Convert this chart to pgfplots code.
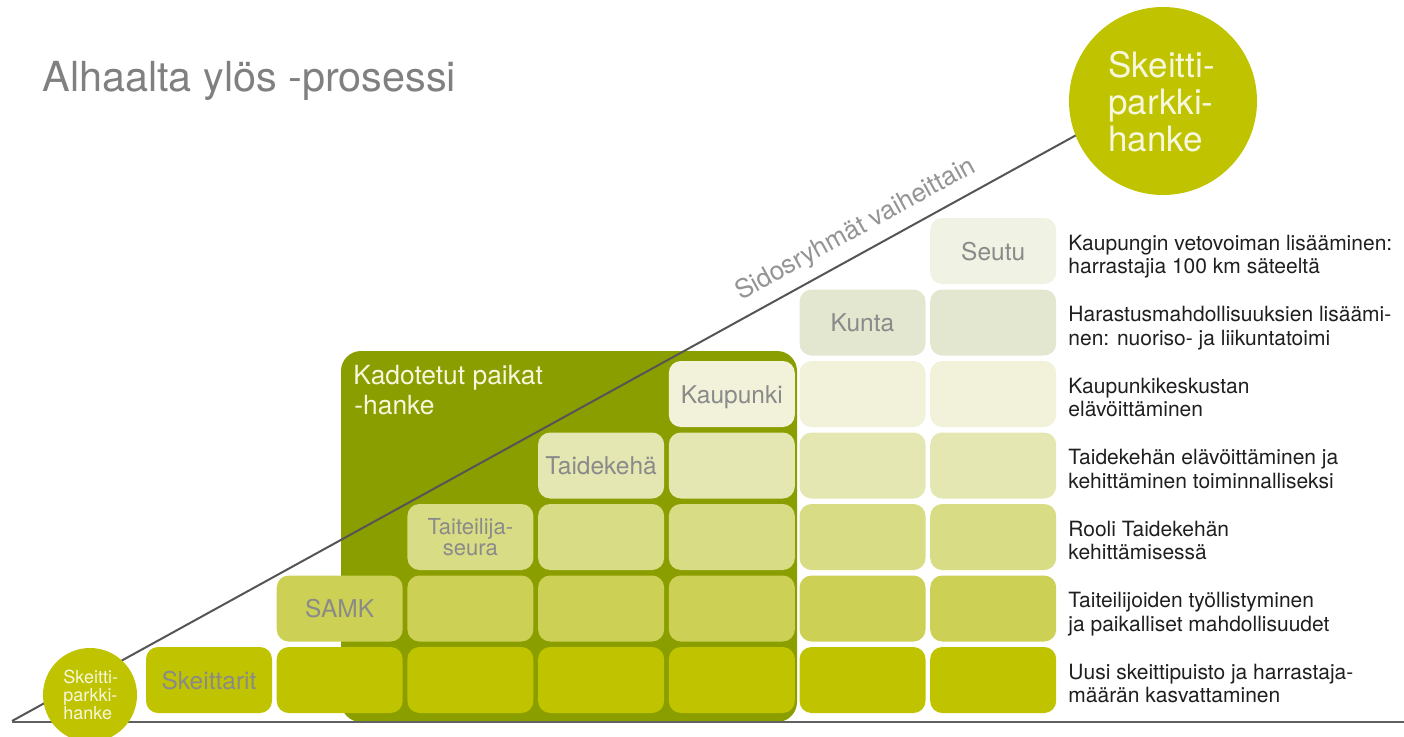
\documentclass[border=0pt]{standalone}
\usepackage{fontspec}
\setmainfont{TeX Gyre Heros}
\usepackage{pgfplots}
\pgfplotsset{compat=1.18}
\definecolor{rA}{HTML}{BFC300}
\definecolor{rB}{HTML}{CCD055}
\definecolor{rC}{HTML}{D8DC85}
\definecolor{rD}{HTML}{E4E7B2}
\definecolor{rE}{HTML}{F1F2D9}
\definecolor{rF}{HTML}{E3E7CF}
\definecolor{rG}{HTML}{F0F2E3}
\definecolor{darkbox}{HTML}{8A9E00}
\definecolor{tilegray}{HTML}{8A8A8A}
\definecolor{linegray}{HTML}{555555}
\definecolor{circtext}{HTML}{F6F7DC}
\newcommand{\tile}[3]{\fill[#3, rounded corners=6bp] (axis cs:{146+130.7*#1},{647-71.5*#2}) rectangle (axis cs:{146+130.7*#1+126},{647-71.5*#2+66});}
\newcommand{\rtext}[3]{%
\node[anchor=base west, inner sep=0pt, text=black!88, font=\fontsize{10.5bp}{12bp}\selectfont] at (axis cs:1068,{680-71.5*#1-1}) {#2};
\node[anchor=base west, inner sep=0pt, text=black!88, font=\fontsize{10.5bp}{12bp}\selectfont] at (axis cs:1068,{680-71.5*#1+22.5}) {#3};}
\begin{document}
\begin{tikzpicture}
\begin{axis}[name=ax, scale only axis, width=702bp, height=368.5bp,
  xmin=0, xmax=1404, ymin=0, ymax=737, y dir=reverse, hide axis,
  enlargelimits=false, clip=true]
% dark project box
\fill[darkbox, rounded corners=10bp] (axis cs:341,351) rectangle (axis cs:797,722);
% diagonal line
\draw[linegray, line width=1bp] (axis cs:12,721) -- (axis cs:1120,111);
% tiles
\tile{0}{0}{rA}\tile{1}{0}{rA}\tile{2}{0}{rA}\tile{3}{0}{rA}\tile{4}{0}{rA}\tile{5}{0}{rA}\tile{6}{0}{rA}
\tile{1}{1}{rB}\tile{2}{1}{rB}\tile{3}{1}{rB}\tile{4}{1}{rB}\tile{5}{1}{rB}\tile{6}{1}{rB}
\tile{2}{2}{rC}\tile{3}{2}{rC}\tile{4}{2}{rC}\tile{5}{2}{rC}\tile{6}{2}{rC}
\tile{3}{3}{rD}\tile{4}{3}{rD}\tile{5}{3}{rD}\tile{6}{3}{rD}
\tile{4}{4}{rE}\tile{5}{4}{rE}\tile{6}{4}{rE}
\tile{5}{5}{rF}\tile{6}{5}{rF}
\tile{6}{6}{rG}
% baseline
\draw[black!62, line width=1bp] (axis cs:12,721.5) -- (axis cs:1404,721.5);
% circles
\fill[rA] (axis cs:90,695) circle[radius=23.5bp];
\fill[rA] (axis cs:1163,101) circle[radius=47bp];
% tile labels
\node[anchor=base, inner sep=0pt, text=tilegray, font=\fontsize{12.25bp}{14bp}\selectfont] at (axis cs:209,689) {Skeittarit};
\node[anchor=base, inner sep=0pt, text=tilegray, font=\fontsize{12.25bp}{14bp}\selectfont] at (axis cs:339.7,617) {SAMK};
\node[anchor=base, inner sep=0pt, text=tilegray, font=\fontsize{11bp}{12bp}\selectfont] at (axis cs:470.4,534) {Taiteilija-};
\node[anchor=base, inner sep=0pt, text=tilegray, font=\fontsize{11bp}{12bp}\selectfont] at (axis cs:470.4,555) {seura};
\node[anchor=base, inner sep=0pt, text=tilegray, font=\fontsize{12.25bp}{14bp}\selectfont] at (axis cs:601.1,474.5) {Taidekehä};
\node[anchor=base, inner sep=0pt, text=tilegray, font=\fontsize{12.25bp}{14bp}\selectfont] at (axis cs:731.8,403) {Kaupunki};
\node[anchor=base, inner sep=0pt, text=tilegray, font=\fontsize{12.25bp}{14bp}\selectfont] at (axis cs:862.5,331.5) {Kunta};
\node[anchor=base, inner sep=0pt, text=tilegray, font=\fontsize{12.25bp}{14bp}\selectfont] at (axis cs:993.2,260) {Seutu};
% project box title
\node[anchor=base west, inner sep=0pt, text=circtext, font=\fontsize{13.2bp}{15bp}\selectfont] at (axis cs:353,384.5) {Kadotetut paikat};
\node[anchor=base west, inner sep=0pt, text=circtext, font=\fontsize{13.2bp}{15bp}\selectfont] at (axis cs:354,414) {-hanke};
% circle texts
\node[anchor=base west, inner sep=0pt, text=circtext, font=\fontsize{9bp}{10bp}\selectfont] at (axis cs:63,683) {Skeitti-};
\node[anchor=base west, inner sep=0pt, text=circtext, font=\fontsize{9bp}{10bp}\selectfont] at (axis cs:63,701) {parkki-};
\node[anchor=base west, inner sep=0pt, text=circtext, font=\fontsize{9bp}{10bp}\selectfont] at (axis cs:63,719) {hanke};
\node[anchor=base west, inner sep=0pt, text=circtext, font=\fontsize{17.5bp}{19bp}\selectfont] at (axis cs:1108,77) {Skeitti-};
\node[anchor=base west, inner sep=0pt, text=circtext, font=\fontsize{17.5bp}{19bp}\selectfont] at (axis cs:1108,114) {parkki-};
\node[anchor=base west, inner sep=0pt, text=circtext, font=\fontsize{17.5bp}{19bp}\selectfont] at (axis cs:1108,151) {hanke};
% title
\node[anchor=base west, inner sep=0pt, text=black!50, font=\fontsize{20.7bp}{24bp}\selectfont] at (axis cs:42,91.5) {Alhaalta ylös -prosessi};
% diagonal label
\node[anchor=base, inner sep=0pt, rotate=28.8, text=black!42, font=\fontsize{13bp}{15bp}\selectfont] at (axis cs:859,236) {Sidosryhmät vaiheittain};
% right-hand descriptions
\rtext{6}{Kaupungin vetovoiman lisääminen:}{harrastajia 100 km säteeltä}
\rtext{5}{Harastusmahdollisuuksien lisäämi-}{nen: nuoriso- ja liikuntatoimi}
\rtext{4}{Kaupunkikeskustan}{elävöittäminen}
\rtext{3}{Taidekehän elävöittäminen ja}{kehittäminen toiminnalliseksi}
\rtext{2}{Rooli Taidekehän}{kehittämisessä}
\rtext{1}{Taiteilijoiden työllistyminen}{ja paikalliset mahdollisuudet}
\rtext{0}{Uusi skeittipuisto ja harrastaja-}{määrän kasvattaminen}
\end{axis}
\pgfresetboundingbox
\path (ax.south west) rectangle (ax.north east);
\end{tikzpicture}
\end{document}
